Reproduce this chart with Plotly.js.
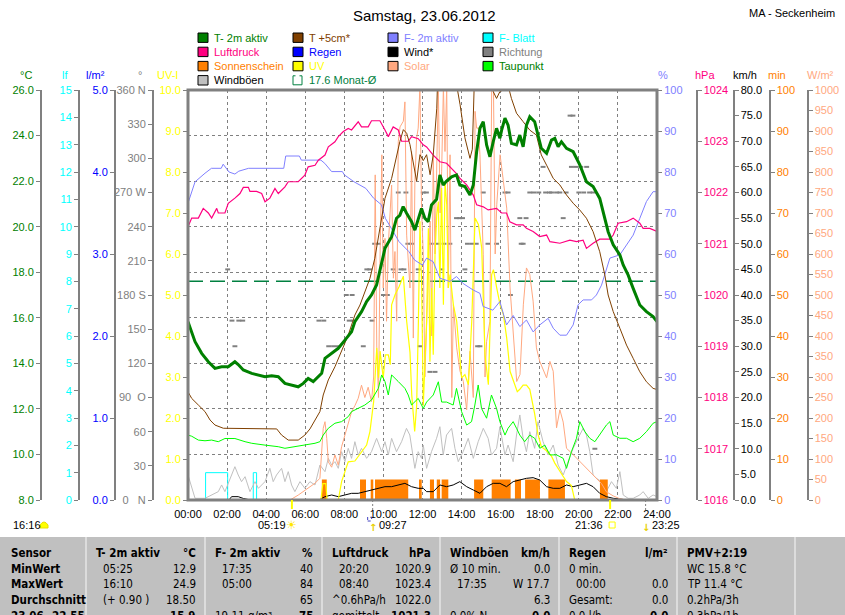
<!DOCTYPE html>
<html><head><meta charset="utf-8">
<script src="https://cdn.plot.ly/plotly-3.0.1.min.js"></script>
<style>html,body{margin:0;padding:0;background:#fff;}#chart{width:845px;height:615px;}</style>
</head><body><div id="chart"></div>
<script>
// ---------------- DATA ----------------
const chartTitle = 'Samstag, 23.06.2012';
const station = 'MA - Seckenheim';
const hourTicks = [0,2,4,6,8,10,12,14,16,18,20,22,24];
const hourLabels = ['00:00','02:00','04:00','06:00','08:00','10:00','12:00','14:00','16:00','18:00','20:00','22:00','24:00'];
const dirTicks = [0,30,60,90,120,150,180,210,240,270,300,330,360];
const dirLabels = ['0   N','30','60','90  O','120','150','180 S','210','240','270 W','300','330','360 N'];
const monthAvg = 17.6;
const sunRise = '05:19', sunSet = '21:36', moonRise = '09:27', moonSet = '23:25', dayLength = '16:16';

// [hour, °C]
const temp2m = [[0,15.83],[0.19,15.39],[0.36,14.95],[0.7,14.44],[1.04,14.07],[1.38,13.78],[1.72,13.85],[2.06,13.85],[2.4,14.07],[2.57,13.95],[2.83,13.71],[3.26,13.56],[3.6,13.5],[3.94,13.41],[4.28,13.45],[4.62,13.41],[4.96,13.12],[5.3,13.05],[5.64,12.97],[5.9,13.12],[6.15,13.34],[6.41,13.2],[6.67,13.41],[6.84,13.56],[7.01,14.22],[7.35,14.44],[7.69,14.66],[8.03,15.02],[8.37,15.39],[8.54,15.83],[8.88,16.27],[9.14,16.71],[9.39,17.0],[9.65,17.44],[9.91,18.46],[10.08,19.05],[10.42,19.56],[10.67,20.37],[10.84,20.5],[11.01,20.88],[11.18,20.6],[11.44,20.22],[11.61,19.85],[11.78,20.3],[11.95,20.8],[12.12,20.37],[12.29,20.22],[12.46,20.95],[12.72,21.2],[12.89,22.27],[13.06,21.83],[13.23,22.0],[13.49,22.19],[13.74,22.27],[13.91,21.83],[14.17,21.76],[14.43,21.39],[14.6,21.83],[14.77,23.29],[14.94,24.32],[15.11,24.61],[15.28,23.59],[15.45,23.07],[15.62,23.73],[15.79,24.32],[15.96,23.88],[16.05,24.24],[16.22,24.76],[16.38,24.46],[16.55,23.66],[16.81,23.59],[16.98,24.02],[17.15,23.51],[17.32,24.46],[17.49,24.83],[17.74,24.61],[17.91,24.02],[18.08,23.44],[18.35,23.22],[18.6,23.8],[18.77,23.88],[18.94,23.51],[19.11,23.73],[19.37,23.44],[19.71,23.29],[20.05,22.71],[20.39,21.97],[20.73,21.76],[21.07,21.24],[21.33,20.37],[21.5,19.78],[21.76,19.2],[22.1,18.76],[22.27,18.32],[22.52,17.88],[22.78,17.29],[23.12,16.56],[23.46,16.27],[23.8,16.05],[24,15.83]];
// [hour, °C]
const temp5cm = [[0,12.75],[0.19,12.46],[0.53,12.17],[0.87,11.88],[1.13,11.51],[1.38,11.29],[1.81,11.15],[3.26,11.12],[4.54,11.12],[4.79,10.85],[5.13,10.63],[5.64,10.63],[5.98,10.85],[6.24,11.12],[6.5,11.51],[6.75,11.88],[6.92,12.61],[7.18,13.27],[7.52,13.85],[7.86,14.51],[8.2,15.24],[8.37,15.68],[8.54,16.12],[8.8,16.56],[9.05,17.15],[9.31,17.73],[9.56,18.61],[9.91,20.37],[10.08,21.24],[10.42,22.12],[10.67,23.07],[10.84,23.73],[11.02,24.26],[11.19,24.1],[11.36,23.6],[11.53,22.72],[11.7,22.0],[11.87,23.16],[12.04,22.9],[12.21,23.16],[12.39,22.28],[12.55,23.16],[12.73,25.2],[12.81,27.5],[13.58,27.5],[13.75,26.2],[13.92,25.37],[14.17,23.9],[14.43,23.0],[14.55,23.4],[14.69,27.5],[15.5,27.5],[15.62,25.93],[15.79,25.63],[15.96,25.93],[16.13,26.0],[16.38,26.2],[16.55,25.63],[16.81,24.98],[17.15,24.61],[17.49,24.24],[17.83,24.02],[18.08,23.15],[18.35,22.7],[18.69,22.12],[19.03,21.83],[19.37,21.39],[19.71,21.03],[20.05,20.73],[20.39,20.37],[20.73,19.78],[21.07,18.9],[21.33,17.88],[21.5,17.0],[21.76,16.27],[22.1,15.54],[22.44,14.8],[22.78,14.22],[23.12,13.63],[23.46,13.19],[23.8,12.9],[24,12.85]];
// [hour, %]
const humidity = [[0,72.4],[0.36,77.6],[0.87,79.7],[1.2,80.9],[1.7,80.9],[1.8,81.9],[2.1,80],[2.4,79.5],[2.6,80.2],[3.1,80.9],[4.9,80.9],[5.0,83.9],[5.7,83.9],[5.8,82.9],[6.8,82.9],[7.0,82.1],[7.35,80.1],[7.9,80.1],[8.0,79.3],[8.5,77.6],[9.1,76],[9.5,73.6],[9.9,72],[10.1,68.7],[10.4,66.3],[10.8,63],[11.3,60.6],[11.6,58.5],[12.0,57.3],[12.21,59],[12.55,58.1],[12.89,54.1],[13.4,53.3],[13.74,54.5],[14.08,52.8],[14.6,51.2],[14.94,50.4],[15.1,47.2],[15.6,46.3],[15.96,48.4],[16.3,42.7],[16.64,45],[16.98,42.3],[17.32,43.9],[17.66,41],[18.0,42.7],[18.43,44.3],[18.69,41.9],[19.03,40.2],[19.37,40.2],[19.71,42.7],[19.96,47.6],[20.22,48.8],[20.65,48.8],[20.9,50],[21.16,52.4],[21.59,59],[22.1,59.8],[22.44,62.2],[22.78,64.6],[23.12,68.7],[23.46,72.8],[23.8,75.2],[24,75.2]];
// [hour, hPa]
const pressure = [[0,1021.33],[0.19,1021.5],[0.53,1021.5],[0.78,1021.69],[1.04,1021.6],[1.21,1021.5],[1.47,1021.69],[1.55,1021.6],[1.89,1021.6],[2.06,1021.79],[2.4,1021.89],[2.66,1021.98],[2.83,1022.1],[3.09,1022.1],[3.17,1022.02],[3.51,1022.02],[3.77,1021.98],[3.94,1021.82],[4.19,1021.89],[4.45,1022.08],[4.62,1021.98],[4.96,1022.11],[5.13,1022.21],[5.64,1022.21],[5.98,1022.34],[6.15,1022.5],[6.5,1022.53],[6.67,1022.63],[7.01,1022.73],[7.18,1022.89],[7.52,1022.99],[7.69,1023.09],[7.95,1023.19],[8.2,1023.25],[8.37,1023.22],[8.71,1023.38],[8.88,1023.28],[9.22,1023.28],[9.39,1023.4],[9.82,1023.4],[10.08,1023.22],[10.25,1023.09],[10.5,1023.28],[10.76,1023.22],[10.93,1023.0],[11.27,1023.0],[11.44,1023.09],[11.78,1023.05],[12.04,1022.93],[12.21,1022.89],[12.55,1022.73],[12.89,1022.6],[13.23,1022.57],[13.49,1022.47],[13.74,1022.37],[13.91,1022.28],[14.26,1022.15],[14.6,1021.95],[14.77,1021.76],[15.11,1021.72],[15.36,1021.66],[15.79,1021.69],[16.05,1021.6],[16.3,1021.6],[16.47,1021.43],[16.81,1021.37],[17.15,1021.37],[17.32,1021.3],[17.66,1021.24],[18.0,1021.14],[18.35,1021.17],[18.52,1021.04],[19.03,1021.01],[19.54,1021.07],[19.88,1021.04],[20.22,1021.07],[20.39,1020.91],[20.73,1021.01],[21.07,1021.09],[21.59,1021.09],[21.76,1021.17],[22.01,1021.4],[22.44,1021.43],[22.78,1021.5],[23.12,1021.4],[23.29,1021.3],[23.63,1021.3],[24,1021.24]];
// [hour, °C]
const dewPoint = [[0,10.85],[0.19,10.8],[0.53,10.63],[0.87,10.6],[1.21,10.63],[1.55,10.56],[1.89,10.7],[2.4,10.7],[2.92,10.56],[3.26,10.49],[3.94,10.41],[4.62,10.34],[4.96,10.27],[5.47,10.34],[5.98,10.41],[6.5,10.49],[6.75,10.56],[6.92,10.85],[7.18,11.15],[7.52,11.37],[7.86,11.44],[8.2,11.66],[8.37,11.88],[8.71,12.02],[9.05,12.17],[9.39,12.39],[9.74,12.9],[9.91,13.49],[10.08,13.2],[10.25,12.61],[10.42,13.49],[10.76,13.2],[10.93,13.05],[11.1,12.9],[11.27,12.61],[11.44,12.17],[11.78,12.46],[12.04,12.02],[12.21,12.3],[12.55,12.61],[12.81,13.19],[12.98,12.3],[13.23,12.3],[13.57,12.17],[13.74,12.9],[14.0,11.88],[14.26,11.29],[14.51,11.44],[14.68,12.17],[14.85,13.05],[15.02,12.02],[15.28,11.59],[15.53,12.61],[15.79,12.02],[15.96,11.44],[16.22,10.85],[16.38,11.15],[16.64,11.44],[16.81,11.15],[16.98,10.85],[17.23,10.56],[17.49,10.85],[17.74,10.71],[18.0,10.27],[18.26,10.41],[18.52,9.98],[18.86,9.98],[19.2,9.83],[19.37,9.39],[19.62,10.12],[19.88,10.71],[20.05,11.44],[20.31,11.0],[20.56,10.71],[20.82,10.56],[21.07,10.85],[21.41,11.29],[21.59,11.44],[21.76,10.85],[22.1,10.71],[22.44,10.71],[22.78,10.56],[23.12,10.71],[23.46,11.0],[23.8,11.37],[24,11.44]];
// [hour, km/h]
const gusts = [[0,4.88],[0.19,2.28],[0.36,0.33],[0.87,0.33],[1.21,0.98],[1.55,1.63],[1.72,2.93],[1.89,1.63],[2.23,4.88],[2.4,6.5],[2.57,4.88],[2.74,3.58],[2.92,4.55],[3.17,1.63],[3.43,3.58],[3.6,2.28],[3.94,3.58],[4.19,6.18],[4.36,3.58],[4.53,4.88],[4.79,6.18],[4.96,3.58],[5.13,5.53],[5.3,2.93],[5.47,1.63],[5.73,3.58],[5.98,2.28],[6.24,3.58],[6.5,2.93],[6.67,5.53],[6.75,6.83],[7.01,5.53],[7.18,8.13],[7.35,6.83],[7.52,7.48],[7.69,6.18],[7.86,9.43],[8.03,7.48],[8.2,10.08],[8.37,8.13],[8.54,11.38],[8.71,8.78],[8.88,10.08],[9.14,8.13],[9.39,9.43],[9.65,12.03],[9.91,9.43],[10.08,11.38],[10.25,8.78],[10.42,12.03],[10.67,9.43],[10.93,11.38],[11.18,13.98],[11.35,12.68],[11.61,6.18],[11.78,9.43],[11.95,8.13],[12.04,10.73],[12.21,6.18],[12.46,9.43],[12.72,12.03],[12.89,14.3],[13.06,8.78],[13.23,12.68],[13.49,13.98],[13.66,10.08],[13.83,7.48],[14.08,9.43],[14.34,12.03],[14.6,8.13],[14.85,11.38],[15.11,13.98],[15.36,12.03],[15.53,8.78],[15.79,10.08],[15.96,14.3],[16.22,8.78],[16.38,10.73],[16.64,7.48],[16.81,12.68],[16.98,16.59],[17.15,12.03],[17.32,9.43],[17.49,13.33],[17.74,10.08],[17.91,15.28],[18.17,11.38],[18.43,8.78],[18.69,10.73],[18.94,6.83],[19.2,4.88],[19.45,7.48],[19.71,10.08],[19.96,12.03],[20.22,13.98],[20.39,12.68],[20.56,9.43],[20.73,4.88],[20.9,4.23],[21.16,3.58],[21.41,1.63],[21.67,3.58],[21.92,2.28],[22.1,5.53],[22.27,0.98],[22.52,0.33],[22.78,0.33],[23.12,0.98],[23.29,1.63],[23.55,0.33],[23.8,0.98],[24,0.65]];
// [hour, km/h]
const wind = [[0,0],[2.1,0],[2.23,0.65],[2.57,0.65],[2.83,0.3],[3.2,0],[6.7,0],[6.84,0.3],[7.01,0.65],[7.35,0.98],[7.69,0.65],[8.03,0.98],[8.37,1.3],[8.71,1.3],[9.05,1.63],[9.39,1.95],[9.74,2.28],[10.08,2.6],[10.42,2.6],[10.76,2.93],[11.1,3.25],[11.44,2.6],[11.78,2.28],[12.04,2.28],[12.21,1.63],[12.55,1.63],[12.89,2.93],[13.23,2.6],[13.57,2.93],[13.91,3.58],[14.26,2.6],[14.6,1.95],[14.94,1.3],[15.28,2.6],[15.62,3.25],[15.96,3.25],[16.3,2.6],[16.64,3.58],[16.98,3.9],[17.32,4.23],[17.66,4.36],[18.0,3.9],[18.35,2.6],[18.69,2.28],[19.03,2.28],[19.37,2.93],[19.71,2.6],[20.05,2.93],[20.39,3.25],[20.73,2.6],[21.07,1.3],[21.41,0.65],[21.76,0.33],[22.1,0.2],[22.44,0],[24,0]];
// [hour, degrees]
const direction = [[2.03,202.5],[2.25,157.5],[2.4,135],[2.6,157.5],[2.8,157.5],[6.7,157.5],[6.95,157.5],[7.2,135],[7.45,135],[7.7,135],[8.1,180],[8.4,180],[8.25,157.5],[8.45,157.5],[8.97,135],[9.15,202.5],[9.3,202.5],[9.42,157.5],[9.55,225],[9.75,225],[10.0,180],[10.2,180],[10.5,202.5],[10.76,270],[10.9,202.5],[11.05,202.5],[11.15,270],[11.25,225],[11.45,225],[11.78,202.5],[11.87,135],[12.04,270],[12.2,270],[12.38,112.5],[12.45,225],[12.64,112.5],[12.75,225],[12.98,202.5],[13.1,225],[13.4,225],[13.74,247.5],[13.9,247.5],[14.05,247.5],[14.17,202.5],[14.3,225],[14.55,225],[14.75,225],[14.82,135],[14.94,135],[15.11,270],[15.35,225],[15.79,225],[16.22,270],[16.38,270],[16.5,180],[16.98,247.5],[17.05,225],[17.15,225],[17.3,247.5],[17.49,270],[17.7,270],[17.95,270],[18.17,292.5],[18.3,270],[18.5,270],[18.6,270],[18.86,270],[19.03,270],[19.2,247.5],[19.35,270],[19.55,337.5],[19.7,337.5],[19.62,292.5],[19.85,292.5],[20.1,292.5],[20.4,292.5],[20.0,270],[20.25,270],[20.55,270],[20.73,270],[20.82,45],[23.46,0]];
// [hour, W/m²]
const solar = [[0,0],[5.22,0],[5.64,12],[6.15,28],[6.5,41],[6.75,53],[6.92,175],[7.01,191],[7.1,150],[7.18,93],[7.35,80],[7.52,110],[7.69,85],[7.86,130],[8.03,159],[8.2,190],[8.37,215],[8.54,230],[8.71,248],[8.88,280],[9.05,250],[9.22,275],[9.39,240],[9.5,300],[9.58,793],[9.66,371],[9.75,250],[9.83,600],[9.92,842],[9.99,517],[10.08,638],[10.16,436],[10.25,622],[10.42,768],[10.51,541],[10.59,606],[10.68,436],[10.76,874],[10.85,910],[11.02,924],[11.1,971],[11.19,646],[11.36,517],[11.44,850],[11.53,395],[11.61,776],[11.7,883],[11.78,907],[11.87,1010],[11.95,711],[12.04,598],[12.12,300],[12.21,436],[12.39,680],[12.47,400],[12.55,842],[12.64,600],[12.81,1010],[12.9,700],[12.98,802],[13.07,1010],[13.15,850],[13.24,1010],[13.32,517],[13.41,842],[13.5,250],[13.58,476],[13.75,371],[13.92,314],[14.09,289],[14.26,220],[14.43,363],[14.6,250],[14.69,948],[14.77,907],[14.86,907],[14.94,842],[15.11,598],[15.2,300],[15.28,387],[15.45,436],[15.54,1010],[15.63,1010],[15.72,600],[15.8,720],[15.97,842],[16.14,777],[16.31,712],[16.48,517],[16.65,395],[16.82,289],[16.99,306],[17.16,476],[17.32,566],[17.49,550],[17.66,485],[17.83,371],[18.0,338],[18.17,320],[18.35,298],[18.52,338],[18.69,314],[18.86,176],[19.03,220],[19.2,190],[19.37,126],[19.62,115],[19.88,102],[20.22,85],[20.56,69],[20.9,53],[21.16,40],[21.41,20],[21.76,10],[22.1,3],[22.44,0],[24,0]];
// [hour, UV index]
const uvIndex = [[0,0],[6.8,0],[6.9,0.4],[7.05,0.4],[7.12,0],[7.69,0],[7.86,0.45],[8.2,0.93],[8.54,0.95],[8.88,1.18],[9.14,1.34],[9.31,1.67],[9.5,2.4],[9.66,3.71],[9.75,2.98],[9.83,3.63],[9.99,2.98],[10.1,3.54],[10.25,3.54],[10.35,3.3],[10.42,4.76],[10.6,5.01],[10.8,5.2],[11.02,5.46],[11.19,4.36],[11.36,3.6],[11.45,2.56],[11.6,1.67],[11.7,2.3],[11.79,4.36],[11.87,6.8],[11.96,5.17],[12.04,2.3],[12.21,4.36],[12.3,6.63],[12.38,3.37],[12.47,5.17],[12.55,3.54],[12.64,5.98],[12.73,6.96],[12.81,7.28],[12.89,5.17],[12.98,7.61],[13.07,4.76],[13.15,7.77],[13.24,7.2],[13.32,5.17],[13.41,5.5],[13.58,4.76],[13.75,4.36],[13.92,3.54],[14.0,2.98],[14.17,3.06],[14.35,2.81],[14.52,4.36],[14.69,6.88],[14.86,6.72],[15.03,6.15],[15.2,3.54],[15.37,2.81],[15.54,5.5],[15.63,5.62],[15.8,5.17],[15.97,4.76],[16.14,4.52],[16.31,3.95],[16.48,3.14],[16.65,2.89],[16.85,2.64],[16.98,2.7],[17.15,2.8],[17.32,2.8],[17.49,2.7],[17.74,2.1],[17.91,1.6],[18.08,1.3],[18.35,1.2],[18.6,1.07],[18.77,0.9],[19.03,0.7],[19.2,0.57],[19.37,0.45],[19.62,0.35],[19.79,0],[24,0]];
// leaf wetness [hour, lf] (step)
const leafWet = [[0,0],[0.9,1],[2.03,0],[3.34,1],[3.51,0],[24,0]];
// rain [hour, l/m²]
const rain = [[0,0],[24,0]];
// sunshine periods [start hour, end hour] and minutes per 5-min interval
const sunPeriods = [[6.85,7.1],[8.8,9.11],[9.35,9.48],[9.57,11.27],[11.82,11.96],[12.38,12.59],[12.73,12.9],[12.98,13.32],[14.64,15.11],[15.54,16.51],[16.73,17.04],[17.25,18.01],[18.44,19.29],[21.08,21.48]];
const sunMinutes = [5,5,5,5,5,5,5,5,5,5,5,5,5,5];

// summary table
const tblHead = ['T- 2m aktiv','F- 2m aktiv','Luftdruck','Windböen','Regen','PMV+2:19'];
const tblUnit = ['°C','%','hPa','km/h','l/m²',''];
const tblRowName = ['MinWert','MaxWert','Durchschnitt','23.06.-22.55'];
const tblLeft = [
  ['05:25','16:10','(+ 0.90 )',''],
  ['17:35','05:00','','19.11 g/m³'],
  ['20:20','08:40','^0.6hPa/h','gemittelt'],
  ['Ø 10 min.','17:35','','0.0% N'],
  ['0 min.','00:00','Gesamt:','0.0 l/h'],
  ['WC 15.8 °C','TP 11.4 °C','0.2hPa/3h','0.3hPa/1h']
];
const tblRight = [
  ['12.9','24.9','18.50','15.9'],
  ['40','84','65','75'],
  ['1020.9','1023.4','1022.0','1021.3'],
  ['0.0','W 17.7','6.3','0.0'],
  ['','0.0','0.0','0.0'],
  ['','','','']
];

// ---------------- STYLE / LAYOUT ----------------
const W = 845, H = 615;
const PL = 188, PR = 657, PT = 90, PB = 500;
const FONT = '"Liberation Sans", Arial, Helvetica, sans-serif';
const NARROW = '"Liberation Sans Narrow", "Arial Narrow", "DejaVu Sans Condensed", sans-serif';
const C = {
  tmp:'#008000', t5:'#804000', hum:'#8080FF', leaf:'#00FFFF', press:'#FF0080', rain:'#0000FF',
  wind:'#000000', dir:'#808080', sun:'#FF8000', uv:'#FFFF00', solar:'#FFA880', dew:'#00FF00',
  gust:'#C0C0C0', avg:'#008040', axis:'#808080'
};
const fx = x => x / W;
const fy = y => 1 - y / H;
const hrs = s => { const p = s.split(':').map(Number); return p[0] + p[1] / 60; };
const X = a => a.map(p => p[0]);
const Y = a => a.map(p => p[1]);
const YDOM = [fy(PB), fy(PT)];

function yax(o) {
  return Object.assign({
    domain:YDOM, zeroline:false, showgrid:false, fixedrange:true, autorange:false,
    showline:true, linecolor:C.axis, linewidth:1.5,
    ticks:'outside', ticklen:4, tickwidth:1, tickcolor:C.axis,
    tickfont:{family:FONT, size:11, color:o.color}
  }, o.ax);
}

const layout = {
  width:W, height:H, margin:{l:0, r:0, t:0, b:0, pad:0},
  paper_bgcolor:'#fff', plot_bgcolor:'#fff', showlegend:false,
  font:{family:FONT, size:11, color:'#000'},
  xaxis:{domain:[fx(PL), fx(PR)], anchor:'y', range:[0,24], autorange:false, fixedrange:true,
    tickmode:'array', tickvals:hourTicks, ticktext:hourLabels,
    showgrid:true, gridcolor:C.axis, griddash:'3px,3px', gridwidth:1,
    zeroline:false, showline:false, ticks:'outside', ticklen:4, tickcolor:'rgba(0,0,0,0)',
    tickfont:{family:FONT, size:11, color:'#000'}},
  yaxis: yax({color:C.tmp, ax:{range:[8,26], tick0:8, dtick:2, tickformat:'.1f',
    anchor:'free', position:fx(40), side:'left', showgrid:true, gridcolor:C.axis, griddash:'3px,3px', gridwidth:1}}),
  yaxis2: yax({color:C.leaf, ax:{overlaying:'y', range:[0,15], dtick:1, anchor:'free', position:fx(78), side:'left'}}),
  yaxis3: yax({color:C.rain, ax:{overlaying:'y', range:[0,5], dtick:1, tickformat:'.1f', anchor:'free', position:fx(114), side:'left'}}),
  yaxis4: yax({color:'#000', ax:{overlaying:'y', range:[0,80], dtick:5, tickformat:'.1f', anchor:'free', position:fx(733), side:'right'}}),
  yaxis5: yax({color:C.sun, ax:{overlaying:'y', range:[0,100], dtick:10, anchor:'free', position:fx(769), side:'right'}}),
  yaxis6: yax({color:'#808080', ax:{overlaying:'y', range:[0,360], tickmode:'array', tickvals:dirTicks, ticktext:dirLabels, anchor:'free', position:fx(152), side:'left'}}),
  yaxis7: {overlaying:'y', domain:YDOM, range:[0,80], autorange:false, visible:false, fixedrange:true, anchor:'x'},
  yaxis8: yax({color:C.solar, ax:{overlaying:'y', range:[0,1000], dtick:50, anchor:'free', position:fx(807), side:'right'}}),
  yaxis9: yax({color:C.uv, ax:{overlaying:'y', range:[0,10], dtick:1, tickformat:'.1f', anchor:'x', side:'left', showline:false}}),
  yaxis10: yax({color:C.hum, ax:{overlaying:'y', range:[0,100], dtick:10, anchor:'x', side:'right', showline:false}}),
  yaxis11: yax({color:C.press, ax:{overlaying:'y', range:[1016,1024], dtick:1, anchor:'free', position:fx(696), side:'right'}}),
  yaxis12: {overlaying:'y', domain:YDOM, range:[8,26], autorange:false, visible:false, fixedrange:true, anchor:'x'},
  shapes:[], annotations:[]
};

const S = layout.shapes, A = layout.annotations;
function txt(x, y, text, color, size, anchor, family) {
  A.push({xref:'paper', yref:'paper', x:fx(x), y:fy(y), text:text, showarrow:false,
    xanchor:anchor || 'left', yanchor:'middle', font:{family:family || FONT, size:size || 11, color:color || '#000'}});
}

// plot border
S.push({type:'rect', xref:'x domain', yref:'y domain', x0:0, x1:1, y0:0, y1:1,
  line:{color:C.axis, width:3}, fillcolor:'rgba(0,0,0,0)', layer:'above'});

// title, station
txt(424, 15, chartTitle, '#000', 15, 'center');
txt(837, 13, station, '#000', 11, 'right');

// axis unit labels
[[25.7,'°C',C.tmp],[65,'lf',C.leaf],[95,'l/m²',C.rain],[139.5,'°','#808080'],[167,'UV-I',C.uv],
 [662.5,'%',C.hum],[705,'hPa',C.press],[745,'km/h','#000'],[777,'min',C.sun],[820,'W/m²',C.solar]]
  .forEach(u => txt(u[0], 75, u[1], u[2], 11, 'center'));

// legend
const legend = [
  ['T- 2m aktiv', C.tmp, C.tmp], ['T +5cm*', C.t5, C.t5], ['F- 2m aktiv', C.hum, C.hum], ['F- Blatt', C.leaf, C.leaf],
  ['Luftdruck', C.press, C.press], ['Regen', C.rain, C.rain], ['Wind*', C.wind, '#000'], ['Richtung', C.dir, C.dir],
  ['Sonnenschein', C.sun, C.sun], ['UV', C.uv, C.uv], ['Solar', C.solar, C.solar], ['Taupunkt', C.dew, C.tmp],
  ['Windböen', C.gust, '#000'], [monthAvg.toFixed(1) + ' Monat-Ø', null, C.avg]
];
const legX = [198, 293, 388, 483];
legend.forEach((it, i) => {
  const col = i % 4, row = Math.floor(i / 4);
  const sx = legX[col], cy = 37.7 + row * 14.2;
  if (it[1]) {
    S.push({type:'rect', xref:'paper', yref:'paper', x0:fx(sx), x1:fx(sx+10), y0:fy(cy+4.7), y1:fy(cy-4.7),
      fillcolor:it[1], line:{color:'#000', width:1}});
  } else {
    const x0 = fx(sx), x1 = fx(sx+9), y0 = fy(cy-4.5), y1 = fy(cy+4.5), xa = fx(sx+2.5), xb = fx(sx+6.5);
    S.push({type:'path', xref:'paper', yref:'paper',
      path:`M${xa},${y0} L${x0},${y0} L${x0},${y1} L${x1},${y1} L${x1},${y0} L${xb},${y0}`,
      line:{color:C.avg, width:1}});
  }
  txt(sx + 14, cy, it[0], it[2], 11, 'left');
});

// sun / moon markers below axis
const tRise = hrs(sunRise), tSet = hrs(sunSet), tMRise = hrs(moonRise), tMSet = hrs(moonSet);
[tRise, tSet].forEach(t => S.push({type:'line', xref:'x', yref:'paper', x0:t, x1:t, y0:fy(PB), y1:fy(509), line:{color:'#FFFF00', width:2}}));
[tMRise, tMSet].forEach(t => S.push({type:'line', xref:'x', yref:'paper', x0:t, x1:t, y0:fy(PB), y1:fy(510), line:{color:'#808080', width:1, dash:'2px,2px'}}));
const yRow2 = 525;
const small = {family:FONT, size:11, color:'#000'};
A.push({xref:'x', yref:'paper', x:tRise, y:fy(yRow2), text:sunRise, showarrow:false, xanchor:'right', xshift:-4, yanchor:'middle', font:small});
A.push({xref:'x', yref:'paper', x:tRise, y:fy(yRow2), text:'☀', showarrow:false, xanchor:'center', yanchor:'middle', font:{family:'DejaVu Sans', size:12, color:'#FFE600'}});
A.push({xref:'x', yref:'paper', x:tSet, y:fy(yRow2), text:sunSet, showarrow:false, xanchor:'right', xshift:-5, yanchor:'middle', font:small});
S.push({type:'rect', xref:'x', xsizemode:'pixel', xanchor:tSet, x0:-1, x1:5, yref:'paper', y0:fy(528), y1:fy(522), line:{color:'#FFFF00', width:1}, fillcolor:'rgba(0,0,0,0)'});
A.push({xref:'x', yref:'paper', x:tMRise, y:fy(yRow2), text:moonRise, showarrow:false, xanchor:'left', xshift:4, yanchor:'middle', font:small});
A.push({xref:'x', yref:'paper', x:tMRise, y:fy(yRow2+2), text:'<b>↑</b>', showarrow:false, xanchor:'center', yanchor:'middle', font:{family:'DejaVu Sans', size:10, color:'#E8D000'}});
S.push({type:'rect', xref:'x', xsizemode:'pixel', xanchor:tMRise, x0:-5, x1:-1, yref:'paper', y0:fy(521), y1:fy(517), line:{color:'#4040C0', width:1, dash:'dot'}, fillcolor:'rgba(0,0,0,0)'});
A.push({xref:'x', yref:'paper', x:tMSet, y:fy(yRow2), text:moonSet, showarrow:false, xanchor:'left', xshift:4, yanchor:'middle', font:small});
A.push({xref:'x', yref:'paper', x:tMSet, y:fy(yRow2+2), text:'<b>↓</b>', showarrow:false, xanchor:'center', yanchor:'middle', font:{family:'DejaVu Sans', size:10, color:'#E8D000'}});
txt(11, yRow2, dayLength, '#000', 11, 'left');
S.push({type:'path', xref:'paper', yref:'paper', fillcolor:'#FFFF00', line:{color:'#E8E000', width:1},
  path:`M${fx(40)},${fy(528)} L${fx(40)},${fy(525)} Q${fx(44)},${fy(519)} ${fx(48)},${fy(525)} L${fx(48)},${fy(528)} Z`});

// summary table
const TT = 537;
const colX = [0, 86, 205, 322, 440, 559, 677, 795, 845];
const rowY = [552.7, 569, 584.3, 600, 615.5];
const BOLD = 11.5, REG = 11.5;
S.push({type:'rect', xref:'paper', yref:'paper', x0:0, x1:1, y0:0, y1:fy(TT), fillcolor:'#C0C0C0', line:{width:0}, layer:'below'});
colX.slice(1, -1).forEach(x => S.push({type:'line', xref:'paper', yref:'paper', x0:fx(x), x1:fx(x), y0:0, y1:fy(TT), line:{color:'#E6E6E6', width:1.5}}));
txt(9, rowY[0], '<b>Sensor</b>', '#000', BOLD, 'left', NARROW);
tblRowName.forEach((n, r) => txt(9, rowY[r+1], '<b>' + n + '</b>', '#000', BOLD, 'left', NARROW));
tblHead.forEach((h, c) => {
  const x0 = colX[c+1], x1 = colX[c+2];
  txt(x0 + 8, rowY[0], '<b>' + h + '</b>', '#000', BOLD, 'left', NARROW);
  if (tblUnit[c]) txt(x1 - 7, rowY[0], '<b>' + tblUnit[c] + '</b>', '#000', BOLD, 'right', NARROW);
  tblLeft[c].forEach((t, r) => {
    if (!t) return;
    const ind = /^\d\d:\d\d$/.test(t) || t.charAt(0) === '(' ? 15 : 8;
    txt(x0 + ind, rowY[r+1], t, '#000', REG, 'left', NARROW);
  });
  tblRight[c].forEach((t, r) => {
    if (!t) return;
    txt(x1 - 7, rowY[r+1], r === 3 ? '<b>' + t + '</b>' : t, '#000', r === 3 ? BOLD : REG, 'right', NARROW);
  });
});

// ---------------- TRACES ----------------
const line = (d, yaxis, color, width, extra) => Object.assign({type:'scatter', mode:'lines', x:X(d), y:Y(d), yaxis:yaxis,
  line:{color:color, width:width || 1}, hoverinfo:'skip'}, extra || {});
const traces = [
  {type:'scatter', mode:'lines', x:[0,24], y:[monthAvg, monthAvg], yaxis:'y', hoverinfo:'skip',
   line:{color:C.avg, width:1.5, dash:'15px,7px'}},
  line(leafWet, 'y2', C.leaf, 1, {line:{color:C.leaf, width:1, shape:'hv'}}),
  line(rain, 'y3', C.rain, 1),
  line(gusts, 'y4', C.gust, 1),
  {type:'bar', x:sunPeriods.map(p => p[0]), width:sunPeriods.map(p => p[1] - p[0]), offset:0,
   y:sunMinutes, yaxis:'y5', marker:{color:C.sun, line:{width:0}}, hoverinfo:'skip'},
  {type:'scatter', mode:'markers', x:X(direction), y:Y(direction), yaxis:'y6', hoverinfo:'skip', cliponaxis:true,
   marker:{symbol:'line-ew', size:3.5, color:C.dir, line:{color:C.dir, width:2}}},
  line(wind, 'y7', C.wind, 1),
  line(solar, 'y8', C.solar, 1),
  line(uvIndex, 'y9', C.uv, 1.2),
  line(humidity, 'y10', C.hum, 1),
  line(pressure, 'y11', C.press, 1.2),
  line(dewPoint, 'y12', C.dew, 1),
  line(temp5cm, 'y12', C.t5, 1),
  line(temp2m, 'y12', C.tmp, 3)
];

Plotly.newPlot('chart', traces, layout, {staticPlot:true, displayModeBar:false});
</script></body></html>
